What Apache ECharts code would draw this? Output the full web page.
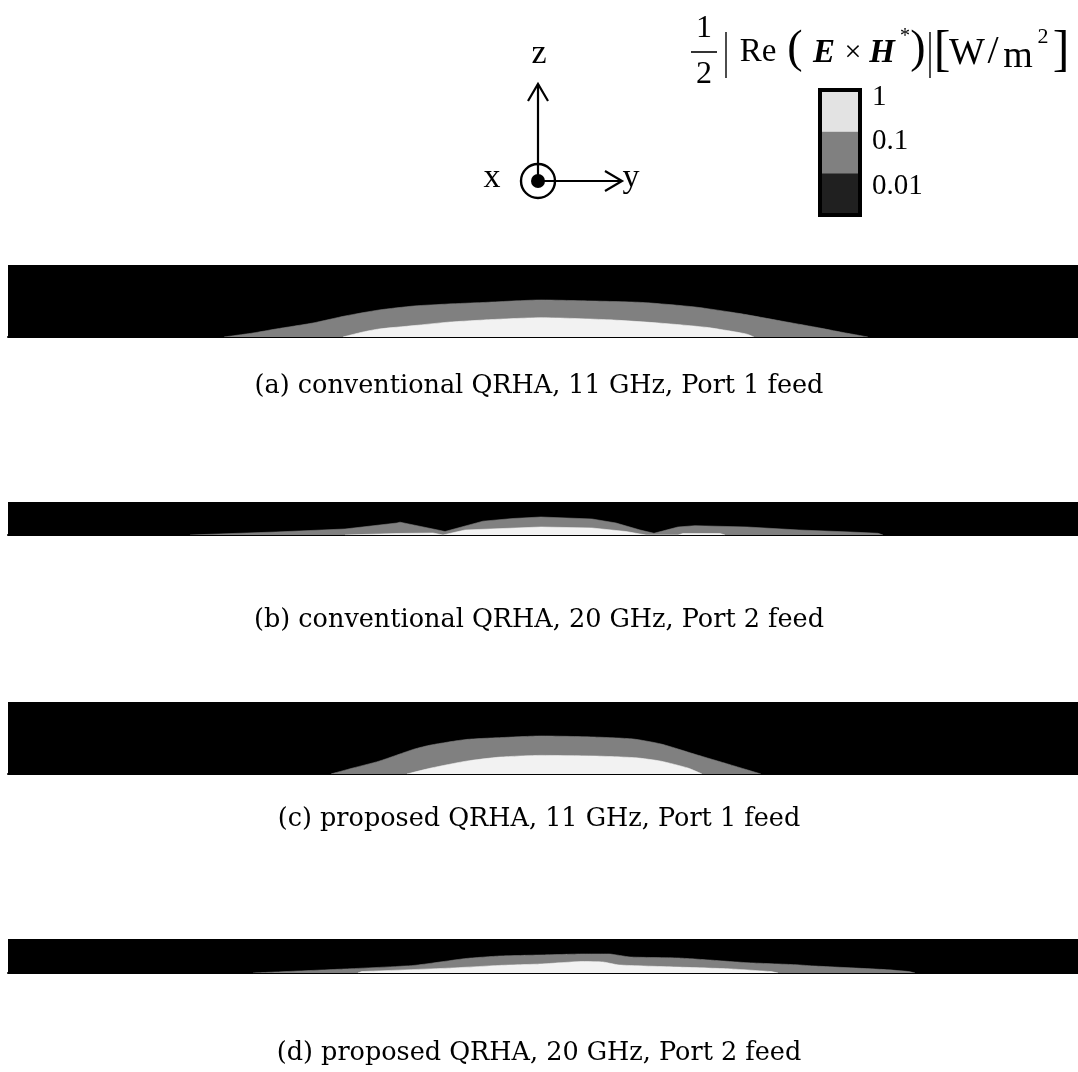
<!DOCTYPE html>
<html>
<head>
<meta charset="utf-8">
<style>
  html, body { margin: 0; padding: 0; background: #fff; }
  #chart { width: 1078px; height: 1072px; }
</style>
<script src="https://cdn.jsdelivr.net/npm/echarts@6.0.0/dist/echarts.min.js"></script>
</head>
<body>
<div id="chart"></div>
<script>
// Transverse position along y (same length unit for y and z), and contour heights z.
// Each contour list is [y, z] pairs tracing the top edge of a power-density level.

// (a) conventional QRHA, 11 GHz, Port 1 feed
const contourA01 = [[-319,0],[-290,4],[-267,8],[-230,14],[-198,21],[-164,27],[-129,31],[-95,33],[-60,34.5],[-2,37],[49,36],[100,34.5],[152,30],[197,23.4],[238,16],[273,9.7],[300,4.5],[325,0]];
const contourA1  = [[-200,0],[-180,5],[-164,8],[-129,11.4],[-95,14.8],[-50,17.5],[-2,19.3],[66,17.2],[118,13.8],[163,9.7],[190,5.5],[204,2.8],[211,0]];

// (b) conventional QRHA, 20 GHz, Port 2 feed
const contourB01 = [[-353,0],[-267,3],[-198,6],[-146,12],[-143,12.8],[-98,3.5],[-60,13.8],[-30,16.5],[-2,18],[49,16],[73,12],[97,5],[111,1.7],[135,8],[152,9.3],[204,8],[256,5],[307,3],[335,1.7],[340,0]];
const contourB1  = [[-198,0],[-146,1.5],[-110,2],[-100,0],[-78,5],[-2,8],[49,7],[83,3.5],[97,1],[103,0],[135,0],[140,1.5],[177,1.5],[182,0]];

// (c) proposed QRHA, 11 GHz, Port 1 feed
const contourC01 = [[-212,0],[-190,6],[-164,12.8],[-129,24.8],[-112,29],[-77,34.5],[-40,36.5],[-2,38],[50,37],[90,35],[118,30],[152,19.7],[187,9.3],[218,0]];
const contourC1  = [[-136,0],[-112,5.9],[-77,12.8],[-43,16.9],[-2,18.6],[50,18],[93,16.2],[118,12.8],[145,5.9],[159,0]];

// (d) proposed QRHA, 20 GHz, Port 2 feed
const contourD01 = [[-290,0],[-198,4],[-129,7.6],[-77,14.5],[-43,17],[-2,18],[40,19],[66,19],[87,16],[135,15],[169,12.8],[204,10.3],[252,8.3],[273,6.9],[342,3.4],[366,1.4],[372,0]];
const contourD1  = [[-185,0],[-181,1.4],[-95,4.8],[-43,7.6],[-2,9],[40,11.5],[60,11],[76,8],[135,5.9],[187,4.1],[228,1.4],[235,0]];

const captions = [
  '(a) conventional QRHA, 11 GHz, Port 1 feed',
  '(b) conventional QRHA, 20 GHz, Port 2 feed',
  '(c) proposed QRHA, 11 GHz, Port 1 feed',
  '(d) proposed QRHA, 20 GHz, Port 2 feed'
];
const panelZMax = [72, 33, 72, 34];
const yRange = [-535, 535];

const colorbarLabels = ['1', '0.1', '0.01'];
const levelColors = ['#e3e3e3', '#808080', '#202020'];

// layout of the four strips
const panelTop = [265, 502, 702, 939];
const captionY = [386, 620, 819, 1053];

const panels = [
  [contourA01, contourA1, 0.2],
  [contourB01, contourB1, false],
  [contourC01, contourC1, 0.2],
  [contourD01, contourD1, 0.15]
];

const grids = [], xAxes = [], yAxes = [], series = [];
panels.forEach(function (p, i) {
  grids.push({
    left: 8, right: 0, top: panelTop[i], height: panelZMax[i],
    show: true, backgroundColor: '#000', borderWidth: 0
  });
  xAxes.push({
    type: 'value', gridIndex: i, min: yRange[0], max: yRange[1],
    axisLine: { show: true, onZero: false, lineStyle: { color: '#000', width: 2 } },
    axisTick: { show: false }, axisLabel: { show: false }, splitLine: { show: false }
  });
  yAxes.push({
    type: 'value', gridIndex: i, min: 0, max: panelZMax[i],
    axisLine: { show: false }, axisTick: { show: false },
    axisLabel: { show: false }, splitLine: { show: false }
  });
  const mk = function (data, color, z) {
    return {
      type: 'line', xAxisIndex: i, yAxisIndex: i, data: data,
      symbol: 'none', smooth: p[2], silent: true, z: z,
      lineStyle: { width: 0.6, color: color },
      areaStyle: { color: color, opacity: 1 }
    };
  };
  series.push(mk(p[0], '#808080', 2));
  series.push(mk(p[1], '#f2f2f2', 3));
});

const serif = '"Liberation Serif", "Times New Roman", serif';
const graphic = [];

// caption under each strip
captions.forEach(function (t, i) {
  graphic.push({
    type: 'text', x: 539, y: captionY[i],
    style: { text: t, font: '25.5px "DejaVu Serif", serif', fill: '#000', align: 'center', verticalAlign: 'middle' }
  });
});

// coordinate triad: z up, y right, x out of the page
const cx = 538, cy = 181;
graphic.push(
  { type: 'line', shape: { x1: cx, y1: cy, x2: cx, y2: 84 }, style: { stroke: '#000', lineWidth: 2.2 } },
  { type: 'polyline', shape: { points: [[cx - 10, 101], [cx, 84], [cx + 10, 101]] }, style: { stroke: '#000', lineWidth: 2.2, fill: null } },
  { type: 'line', shape: { x1: cx, y1: cy, x2: 622, y2: cy }, style: { stroke: '#000', lineWidth: 2.2 } },
  { type: 'polyline', shape: { points: [[605, cy - 10], [622, cy], [605, cy + 10]] }, style: { stroke: '#000', lineWidth: 2.2, fill: null } },
  { type: 'circle', shape: { cx: cx, cy: cy, r: 17 }, style: { stroke: '#000', lineWidth: 2.4, fill: null } },
  { type: 'circle', shape: { cx: cx, cy: cy, r: 7 }, style: { fill: '#000' } },
  { type: 'text', x: cx + 1, y: 54, style: { text: 'z', font: '34px ' + serif, fill: '#000', align: 'center', verticalAlign: 'middle' } },
  { type: 'text', x: 492, y: 178, style: { text: 'x', font: '34px ' + serif, fill: '#000', align: 'center', verticalAlign: 'middle' } },
  { type: 'text', x: 631, y: 178, style: { text: 'y', font: '34px ' + serif, fill: '#000', align: 'center', verticalAlign: 'middle' } }
);

// colour bar of the three contour levels
const cbX = 820, cbTop = 90, cbW = 40, cbH = 125;
colorbarLabels.forEach(function (lab, k) {
  graphic.push({
    type: 'rect', shape: { x: cbX, y: cbTop + k * cbH / 3, width: cbW, height: cbH / 3 },
    style: { fill: levelColors[k] }
  });
  graphic.push({
    type: 'text', x: 872, y: 97 + k * 44.5,
    style: { text: lab, font: '29px ' + serif, fill: '#000', align: 'left', verticalAlign: 'middle' }
  });
});
graphic.push({
  type: 'rect', shape: { x: cbX, y: cbTop, width: cbW, height: cbH },
  style: { fill: null, stroke: '#000', lineWidth: 4 }
});

// quantity heading: 1/2 |Re(E x H*)| [W/m^2]
const t = function (x, y, s, font) {
  return { type: 'text', x: x, y: y,
    style: { text: s, font: font, fill: '#000', align: 'center', verticalAlign: 'middle' } };
};
graphic.push(
  t(704, 29, '1', '32px ' + serif),
  { type: 'line', shape: { x1: 691, y1: 52, x2: 717, y2: 52 }, style: { stroke: '#000', lineWidth: 1.6 } },
  t(704, 75, '2', '32px ' + serif),
  { type: 'line', shape: { x1: 726, y1: 32, x2: 726, y2: 78 }, style: { stroke: '#000', lineWidth: 1.4 } },
  t(758, 52, 'Re', '33px ' + serif),
  t(795, 50, '(', '46px ' + serif),
  t(824, 53, 'E', 'italic bold 33px ' + serif),
  t(853, 53, '×', '30px ' + serif),
  t(882, 53, 'H', 'italic bold 33px ' + serif),
  t(905, 37, '*', '20px ' + serif),
  t(918, 50, ')', '46px ' + serif),
  { type: 'line', shape: { x1: 930, y1: 32, x2: 930, y2: 78 }, style: { stroke: '#000', lineWidth: 1.4 } },
  t(942, 52, '[', '50px ' + serif),
  t(967, 54, 'W', '38px ' + serif),
  t(993, 52, '/', '40px ' + serif),
  t(1018, 57, 'm', '38px ' + serif),
  t(1043, 37, '2', '22px ' + serif),
  t(1061, 52, ']', '50px ' + serif)
);

const chart = echarts.init(document.getElementById('chart'), null, { renderer: 'canvas' });
chart.setOption({
  animation: false,
  backgroundColor: '#fff',
  grid: grids,
  xAxis: xAxes,
  yAxis: yAxes,
  series: series,
  graphic: graphic
});
</script>
</body>
</html>
